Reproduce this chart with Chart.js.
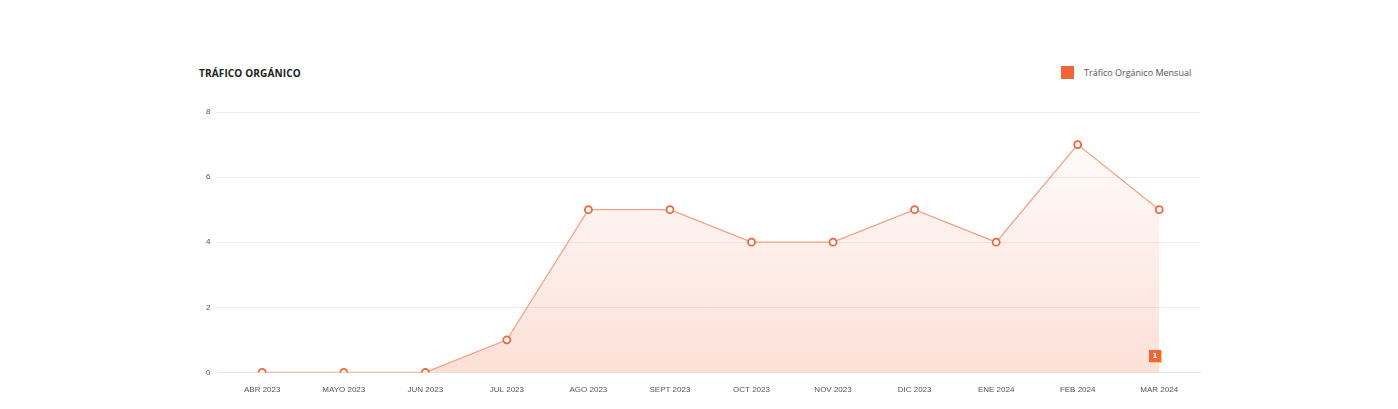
<!DOCTYPE html>
<html>
<head>
<meta charset="utf-8">
<script src="https://cdn.jsdelivr.net/npm/chart.js@4"></script>
<style>
    html, body { margin: 0; padding: 0; background: #fff; }
    body { width: 1398px; height: 409px; position: relative; overflow: hidden; font-family: "Open Sans", sans-serif; }
    .chart-title { position: absolute; left: 199px; top: 66px; font-size: 10px; font-weight: 700; color: #222; letter-spacing: 0.15px; }
    .legend { position: absolute; left: 1061px; top: 66px; display: flex; align-items: center; font-size: 9px; color: #555; }
    .legend .swatch { width: 13px; height: 13px; background: #f26539; margin-right: 10px; }
    .wrap { position: absolute; left: 0; top: 0; width: 1398px; height: 409px; }
    .badge { position: absolute; left: 1149px; top: 350px; width: 12px; height: 12px; background: #f26539; color: #fff; font-size: 7px; font-weight: 700; text-align: center; line-height: 12px; box-shadow: 1px 1px 0 #f5d547; font-family: "DejaVu Sans", sans-serif; }
</style>
</head>
<body>
<div class="chart-title">TRÁFICO ORGÁNICO</div>
<div class="legend"><span class="swatch"></span>Tráfico Orgánico Mensual</div>
<div class="wrap"><canvas id="trafficChart" width="1398" height="409"></canvas></div>
<div class="badge">1</div>

<script>
// Data
const months = ['ABR 2023', 'MAYO 2023', 'JUN 2023', 'JUL 2023', 'AGO 2023', 'SEPT 2023', 'OCT 2023', 'NOV 2023', 'DIC 2023', 'ENE 2024', 'FEB 2024', 'MAR 2024'];
const organicTraffic = [0, 0, 0, 1, 5, 5, 4, 4, 5, 4, 7, 5];
const yTicks = [0, 2, 4, 6, 8];

function areaGradient(context) {
    const { ctx, chartArea } = context.chart;
    if (!chartArea) return 'rgba(242,101,57,0.1)';
    const g = ctx.createLinearGradient(0, chartArea.top, 0, chartArea.bottom);
    g.addColorStop(0, 'rgba(242,101,57,0.0)');
    g.addColorStop(1, 'rgba(242,101,57,0.2)');
    return g;
}

const ctx = document.getElementById('trafficChart').getContext('2d');
new Chart(ctx, {
    type: 'line',
    data: {
        labels: months,
        datasets: [{
            label: 'Tráfico Orgánico Mensual',
            data: organicTraffic,
            borderColor: '#f8a083',
            borderWidth: 1.3,
            backgroundColor: areaGradient,
            fill: true,
            tension: 0,
            pointRadius: 3.5,
            pointBorderWidth: 1.8,
            pointBackgroundColor: '#fff',
            pointBorderColor: '#f26539'
        }]
    },
    options: {
        responsive: false,
        animation: false,
        layout: { padding: { left: 200, right: 198, top: 112, bottom: 1 } },
        plugins: { legend: { display: false }, tooltip: { enabled: false } },
        scales: {
            x: {
                offset: true,
                grid: { display: false, drawTicks: false },
                border: { color: '#e3e3e3' },
                ticks: { color: '#555', font: { family: 'Liberation Sans', size: 8 }, padding: 13, maxRotation: 0 }
            },
            y: {
                min: 0, max: 8,
                afterBuildTicks: s => { s.ticks = yTicks.map(v => ({ value: v })); },
                grid: { color: '#eeeeee', tickLength: 5, drawTicks: true },
                border: { display: false },
                ticks: { color: '#555', font: { family: 'Liberation Sans', size: 8 }, padding: 6 }
            }
        }
    }
});
</script>
</body>
</html>
